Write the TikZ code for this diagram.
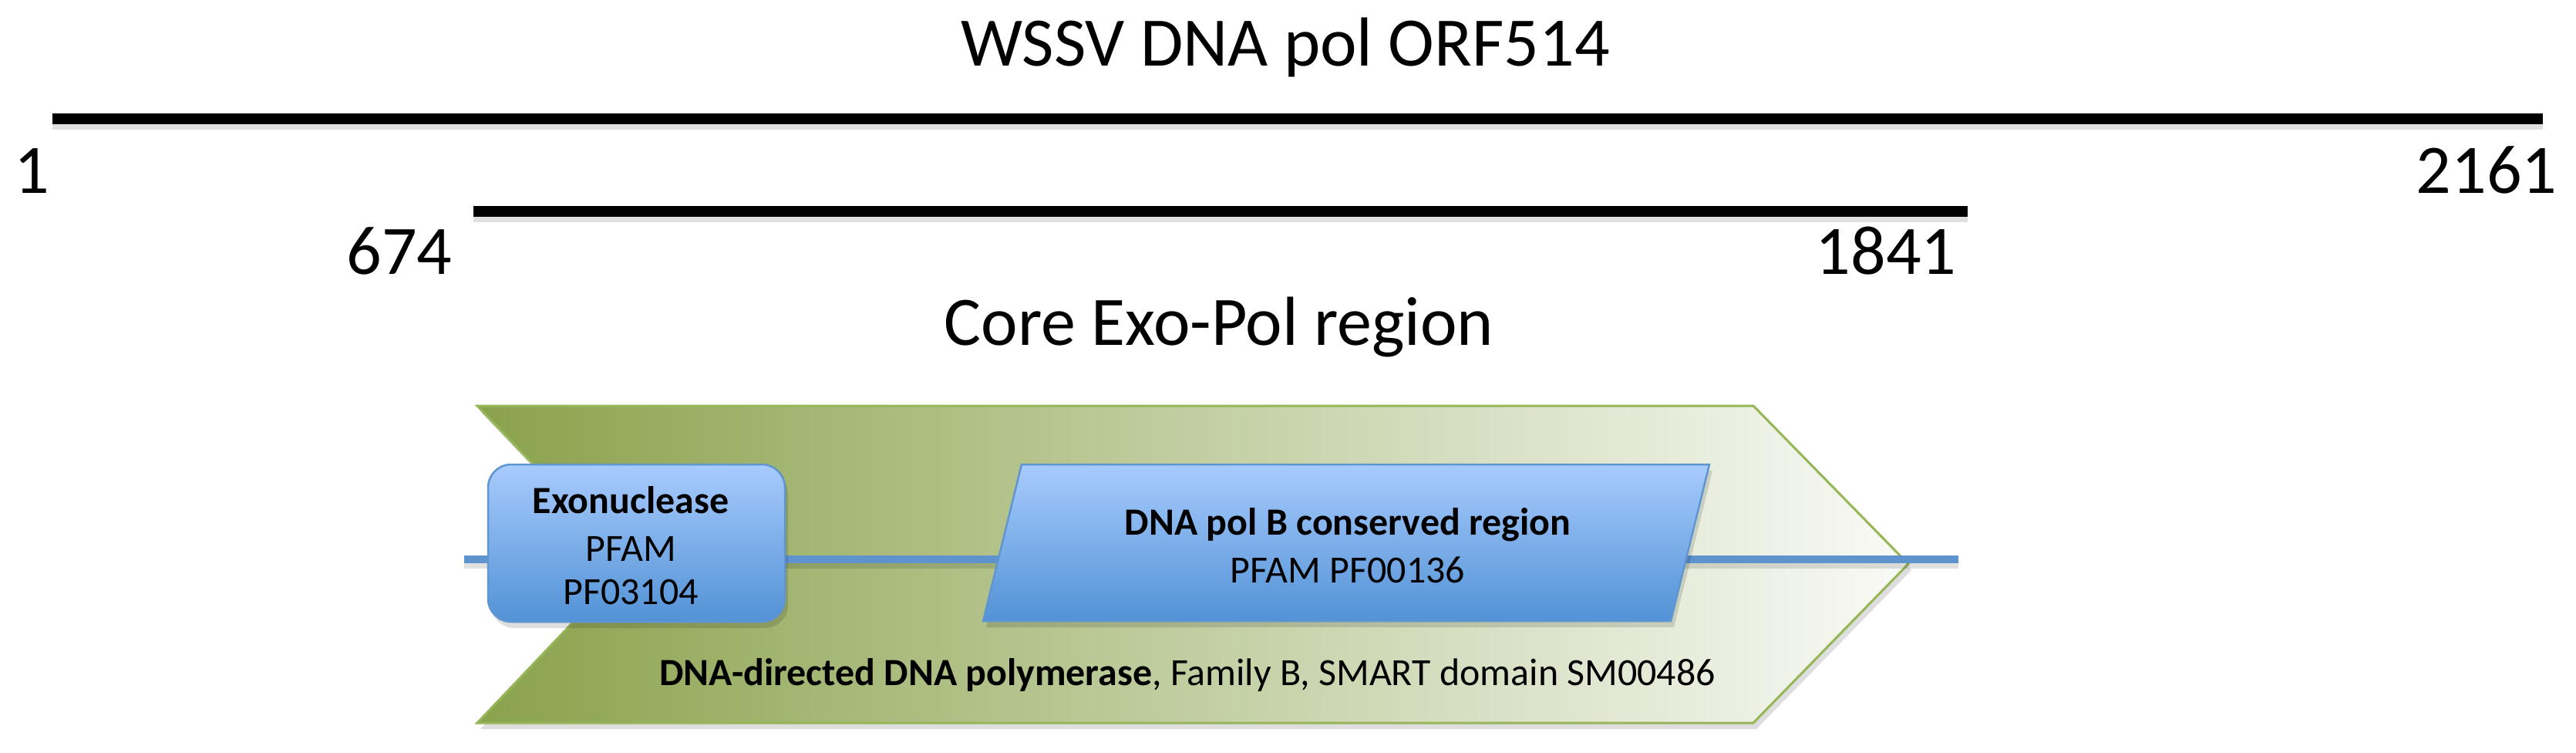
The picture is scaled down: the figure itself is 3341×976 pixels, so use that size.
\documentclass[tikz,border=0pt]{standalone}
\usepackage{fontspec}
\setmainfont{Carlito}
\definecolor{olivedark}{RGB}{138,162,76}
\definecolor{olivelight}{RGB}{249,250,246}
\definecolor{oliveedge}{RGB}{150,182,88}
\definecolor{bluetop}{RGB}{168,203,253}
\definecolor{bluebot}{RGB}{82,146,214}
\definecolor{blueedge}{RGB}{96,150,208}
\definecolor{bbline}{RGB}{93,148,206}
\tikzset{
  bigtext/.style={inner sep=0pt, anchor=base, font=\fontsize{25.6}{30}\selectfont},
  smalltext/.style={inner sep=0pt, anchor=base, font=\fontsize{14.2}{17}\selectfont},
  ruler/.style={line width=0.145cm, black},
  rulershadow/.style={line width=0.12cm, black, opacity=0.12},
  bluebox/.style={top color=bluetop, bottom color=bluebot, draw=blueedge, line width=0.025cm},
  shapeshadow/.style={fill=black, opacity=0.13},
  backbone/.style={line width=0.1cm, bbline}
}
\begin{document}
\begin{tikzpicture}[x=0.01cm,y=-0.01cm]
\useasboundingbox (0,0) rectangle (3341,976);
\fill[white] (0,0) rectangle (3341,976);

% title
\node[bigtext] (title) at (1667,86) {WSSV DNA pol ORF514};

% full-length ruler
\coordinate (fullL) at (68,154);
\coordinate (fullR) at (3298,154);
\draw[rulershadow] ([yshift=-0.08cm]fullL) -- ([yshift=-0.08cm]fullR);
\draw[ruler] (fullL) -- (fullR);
\node[bigtext] (one) at (41,251) {1};
\node[bigtext] (end) at (3225,251) {2161};

% core ruler
\coordinate (coreL) at (614,274);
\coordinate (coreR) at (2552,274);
\draw[rulershadow] ([yshift=-0.08cm]coreL) -- ([yshift=-0.08cm]coreR);
\draw[ruler] (coreL) -- (coreR);
\node[bigtext] (s674) at (518,356) {674};
\node[bigtext] (s1841) at (2446,356) {1841};
\node[bigtext] (core) at (1581,447) {Core Exo-Pol region};

% chevron
\fill[shapeshadow] (623,534) -- (2278,534) -- (2479,739) -- (2278,945) -- (623,945) -- (819,739) -- cycle;
\shadedraw[left color=olivedark, right color=olivelight, draw=oliveedge, line width=0.03cm]
  (619,526) -- (2274,526) -- (2475,731) -- (2274,937) -- (619,937) -- (815,731) -- cycle;

% backbone
\coordinate (bbL) at (602,725);
\coordinate (bbR) at (2540,725);
\draw[backbone, black, opacity=0.12] ([yshift=-0.07cm]bbL) -- ([yshift=-0.07cm]bbR);
\draw[backbone] (bbL) -- (bbR);

% exonuclease box
\fill[shapeshadow, rounded corners=0.3cm] (637,610) rectangle (1022,814);
\shadedraw[bluebox, rounded corners=0.3cm] (633,602) rectangle (1018,806);
\node[smalltext] (exo1) at (818,665) {\bfseries Exonuclease};
\node[smalltext] (exo2) at (818,727) {PFAM};
\node[smalltext] (exo3) at (818,783) {PF03104};

% pol B box
\fill[shapeshadow] (1329,610) -- (2221,610) -- (2171,813) -- (1279,813) -- cycle;
\shadedraw[bluebox] (1325,602) -- (2217,602) -- (2167,805) -- (1275,805) -- cycle;
\node[smalltext] (pol1) at (1748,693) {\bfseries DNA pol B conserved region};
\node[smalltext] (pol2) at (1748,755) {PFAM PF00136};

% bottom label
\node[smalltext] (smart) at (1540,888) {\bfseries DNA-directed DNA polymerase\mdseries, Family B, SMART domain SM00486};
\end{tikzpicture}
\end{document}
